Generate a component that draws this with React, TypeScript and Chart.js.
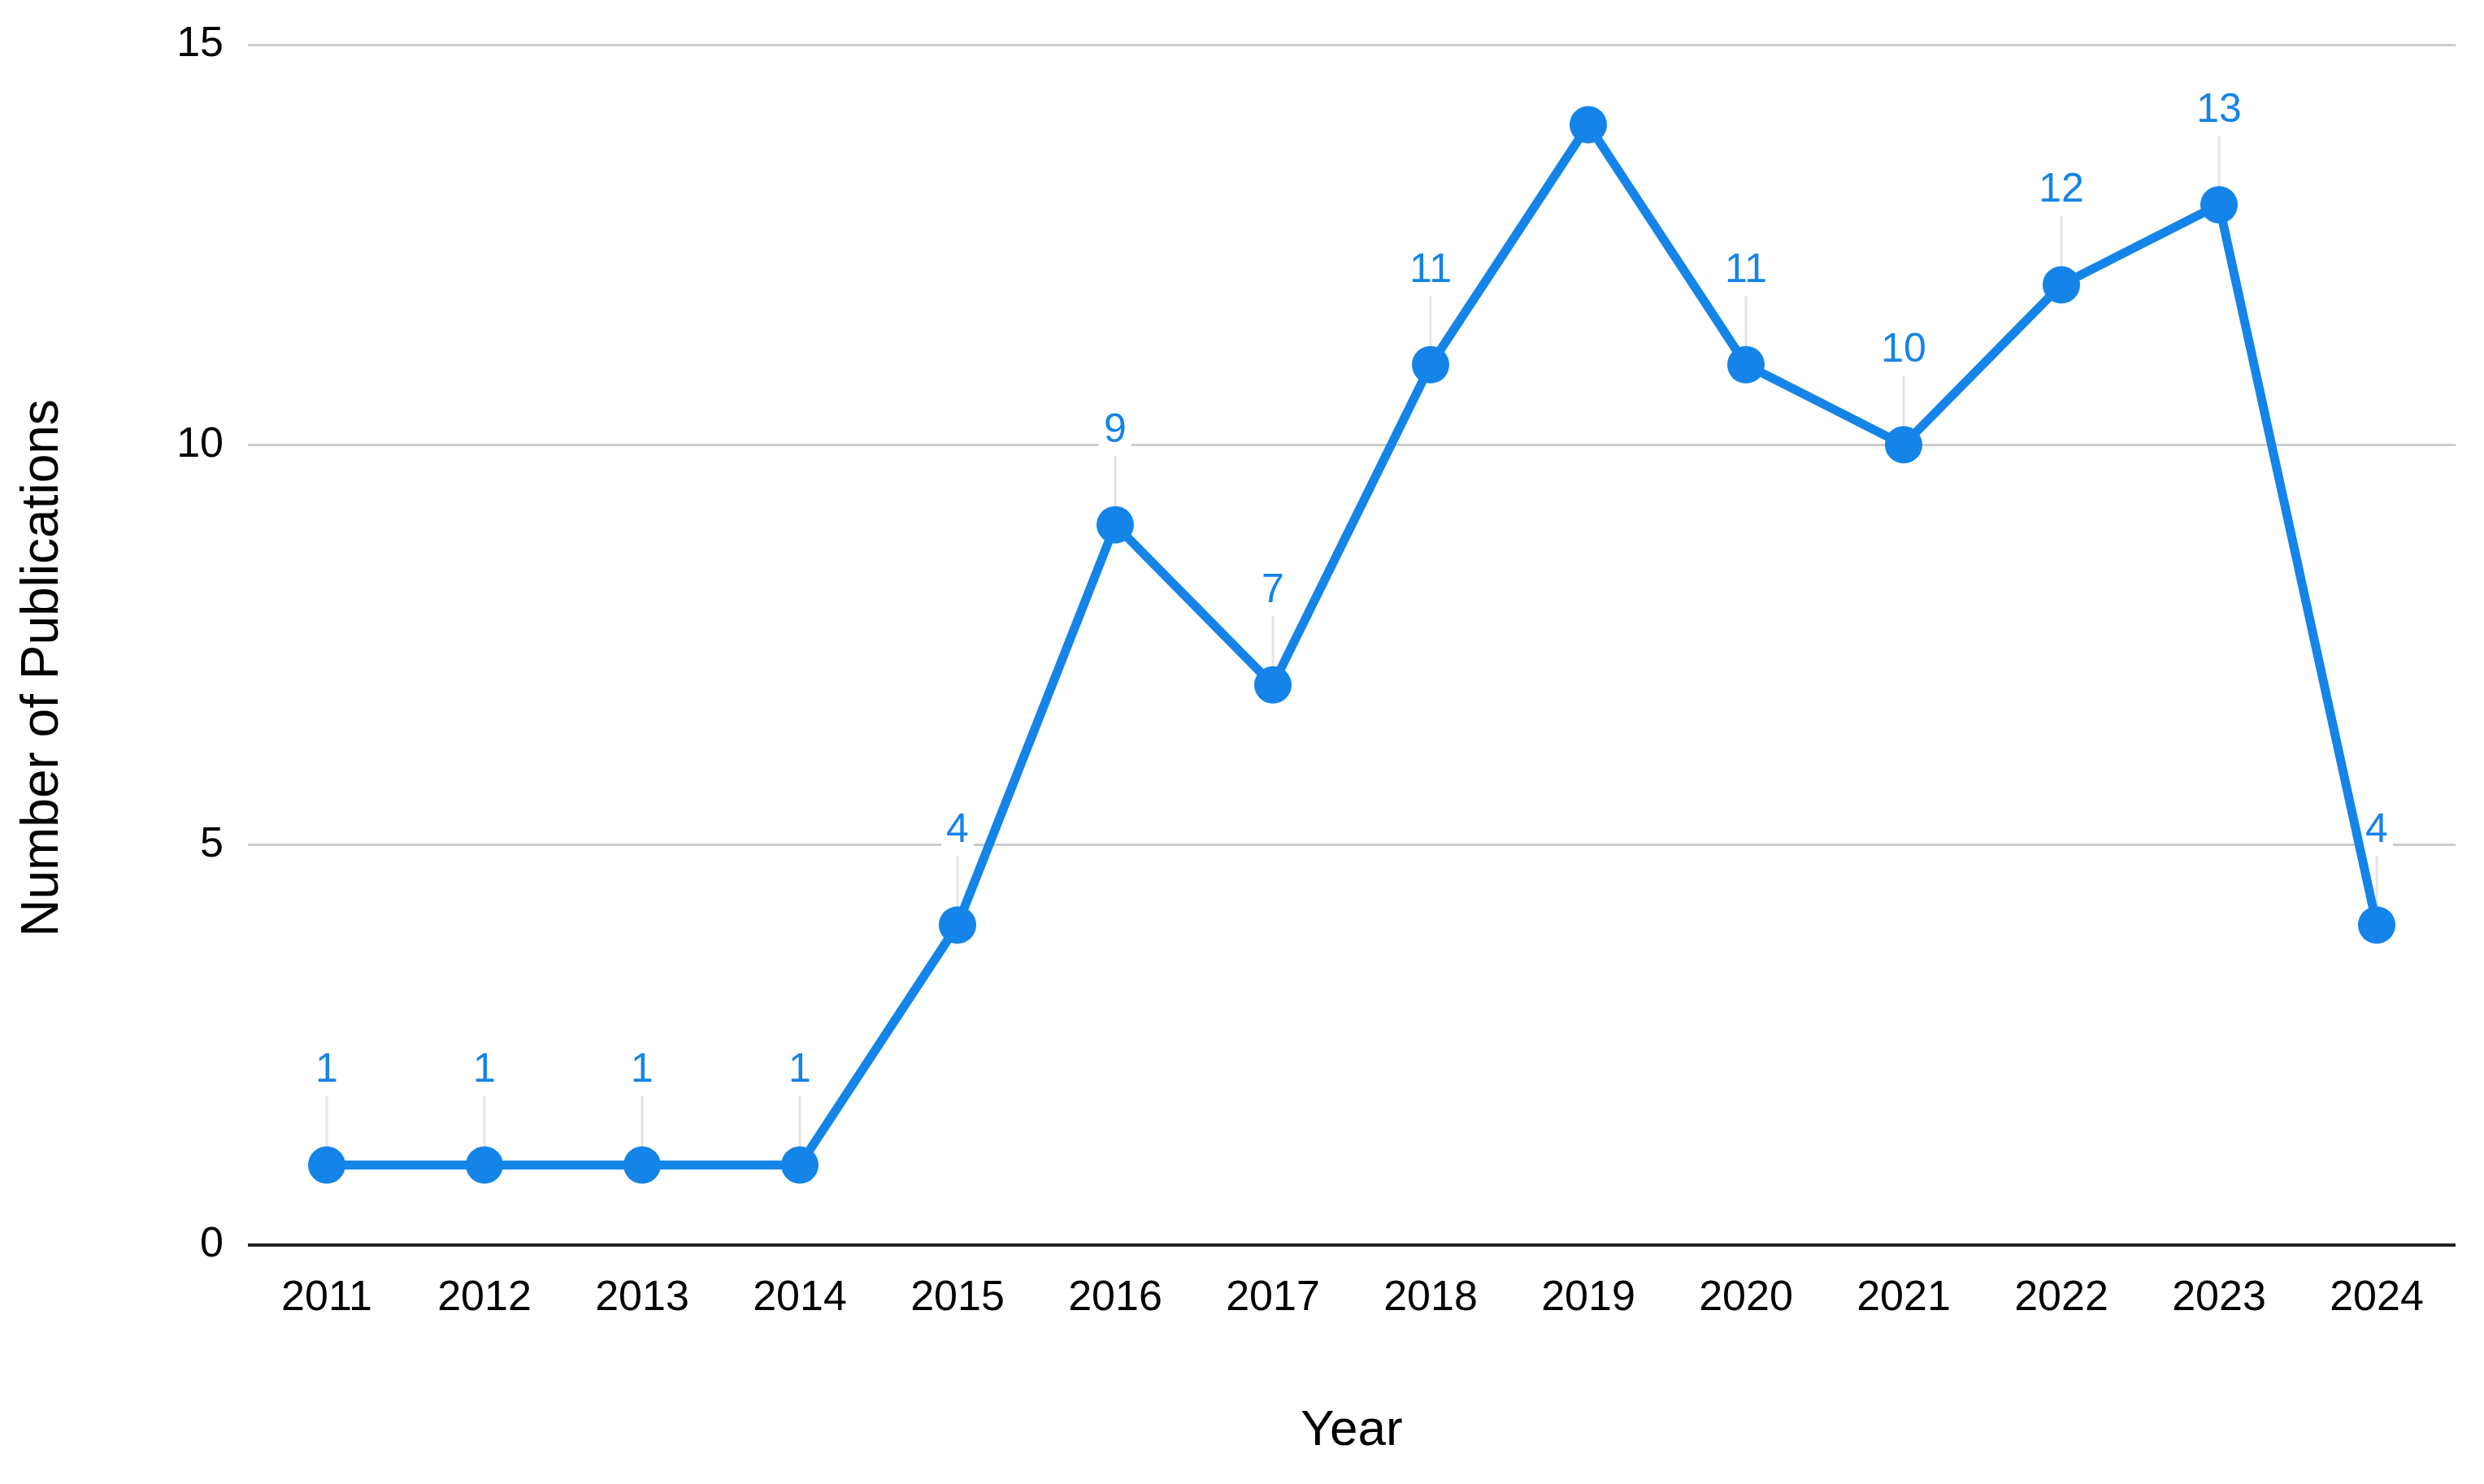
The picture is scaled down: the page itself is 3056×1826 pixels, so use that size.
import React, { useEffect, useRef } from "react";
import { Chart, registerables } from "chart.js";

Chart.register(...registerables);

const years = ["2011", "2012", "2013", "2014", "2015", "2016", "2017", "2018", "2019", "2020", "2021", "2022", "2023", "2024"];
const publications = [1, 1, 1, 1, 4, 9, 7, 11, 14, 11, 10, 12, 13, 4];
const valueLabels = ["1", "1", "1", "1", "4", "9", "7", "11", null, "11", "10", "12", "13", "4"];
const yTicks = [0, 5, 10, 15];
const xTitle = "Year";
const yTitle = "Number of Publications";

const BLUE = "#1484E8";
const FONT = "'Liberation Sans', Arial, sans-serif";

export default function App() {
  const ref = useRef<HTMLCanvasElement | null>(null);

  useEffect(() => {
    if (!ref.current) return;

    const labelPlugin = {
      id: "valueLabels",
      beforeDatasetsDraw(chart: any) {
        const ctx = chart.ctx;
        const meta = chart.getDatasetMeta(0);
        ctx.save();
        meta.data.forEach((pt: any, i: number) => {
          const txt = valueLabels[i];
          if (!txt) return;
          const x = pt.x;
          const y = pt.y;
          ctx.strokeStyle = "#e4e4e4";
          ctx.lineWidth = 3;
          ctx.beginPath();
          ctx.moveTo(x, y - 85);
          ctx.lineTo(x, y);
          ctx.stroke();
          ctx.font = `50px ${FONT}`;
          ctx.textAlign = "center";
          ctx.textBaseline = "middle";
          const w = ctx.measureText(txt).width;
          const ty = y - 116;
          ctx.fillStyle = "#ffffff";
          ctx.fillRect(x - w / 2 - 6, ty - 24, w + 12, 46);
          ctx.fillStyle = BLUE;
          ctx.fillText(txt, x, ty);
        });
        ctx.restore();
      },
    };

    const yTitlePlugin = {
      id: "yTitle",
      afterDraw(chart: any) {
        const ctx = chart.ctx;
        ctx.save();
        ctx.translate(53, 822);
        ctx.rotate(-Math.PI / 2);
        ctx.font = `64px ${FONT}`;
        ctx.fillStyle = "#000";
        ctx.textAlign = "center";
        ctx.textBaseline = "middle";
        ctx.fillText(yTitle, 0, 0);
        ctx.restore();
      },
    };

    const chart = new Chart(ref.current, {
      type: "line",
      data: {
        labels: years,
        datasets: [
          {
            data: publications,
            borderColor: BLUE,
            backgroundColor: BLUE,
            borderWidth: 11,
            pointRadius: 23,
            pointHoverRadius: 23,
            pointBackgroundColor: BLUE,
            pointBorderWidth: 0,
            tension: 0,
            clip: false as any,
          },
        ],
      },
      options: {
        animation: false,
        responsive: true,
        maintainAspectRatio: false,
        layout: { padding: { top: 55, right: 35, left: 0, bottom: 0 } },
        plugins: {
          legend: { display: false },
          tooltip: { enabled: false },
        },
        scales: {
          x: {
            type: "category",
            offset: true,
            grid: { display: false, drawTicks: false },
            border: { display: false },
            ticks: {
              color: "#000",
              font: { family: FONT, size: 52 },
              padding: 34,
              maxRotation: 0,
              autoSkip: false,
            },
            title: {
              display: true,
              text: xTitle,
              color: "#000",
              font: { family: FONT, size: 62 },
              padding: { top: 28, bottom: 28 },
            },
            afterFit(scale: any) {
              scale.height = 294;
              scale.paddingLeft = 0;
              scale.paddingRight = 0;
            },
          },
          y: {
            min: yTicks[0],
            max: yTicks[yTicks.length - 1],
            afterBuildTicks(scale: any) {
              scale.ticks = yTicks.map((v) => ({ value: v }));
            },
            grid: {
              drawTicks: false,
              color: (c: any) => (c.tick && c.tick.value === 0 ? "#222" : "#cccccc"),
              lineWidth: (c: any) => (c.tick && c.tick.value === 0 ? 4 : 3),
            },
            border: { display: false },
            ticks: {
              color: "#000",
              font: { family: FONT, size: 52 },
              padding: 30,
            },
            afterFit(scale: any) {
              scale.width = 305;
              scale.paddingTop = 0;
              scale.paddingBottom = 0;
            },
          },
        },
      },
      plugins: [labelPlugin, yTitlePlugin],
    });

    return () => chart.destroy();
  }, []);

  return (
    <div style={{ position: "fixed", left: 0, top: 0, width: 3056, height: 1826, background: "#fff" }}>
      <canvas ref={ref} />
    </div>
  );
}
